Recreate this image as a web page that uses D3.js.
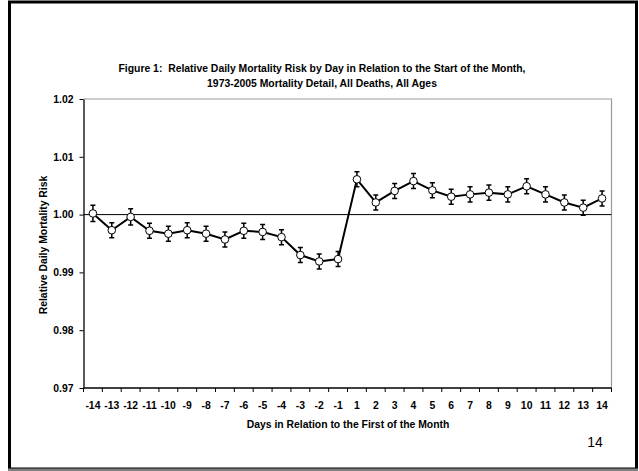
<!DOCTYPE html>
<html>
<head>
<meta charset="utf-8">
<script src="https://cdn.jsdelivr.net/npm/d3@7"></script>
<style>
  body { margin: 0; background: #fff; }
  svg { display: block; font-family: "Liberation Sans", Arial, sans-serif; }
  text { white-space: pre; }
</style>
</head>
<body>
<div id="chart"></div>
<script>
// days relative to first of month (no day 0)
const days = [-14, -13, -12, -11, -10, -9, -8, -7, -6, -5, -4, -3, -2, -1,
              1, 2, 3, 4, 5, 6, 7, 8, 9, 10, 11, 12, 13, 14];
const risk = [1.0002, 0.9973, 0.9996, 0.9972, 0.9967, 0.9973, 0.9967, 0.9957, 0.9972, 0.9970, 0.9961, 0.9930, 0.9919, 0.9923,
              1.0061, 1.0021, 1.0041, 1.0058, 1.0042, 1.0031, 1.0035, 1.0038, 1.0035, 1.0049, 1.0035, 1.0021, 1.0012, 1.0028];
const errs = [0.0014, 0.0013, 0.0014, 0.0013, 0.0013, 0.0013, 0.0013, 0.0013, 0.0013, 0.0013, 0.0013, 0.0013, 0.0013, 0.0013,
              0.0013, 0.0013, 0.0013, 0.0013, 0.0013, 0.0013, 0.0013, 0.0013, 0.0013, 0.0013, 0.0013, 0.0013, 0.0013, 0.0013];
const yTicks = [0.97, 0.98, 0.99, 1.00, 1.01, 1.02];

const width = 639, height = 471;
const plot = {left: 83.5, right: 611.5, top: 99, bottom: 388};
const fs = "10.4px";

const svg = d3.select("#chart").append("svg")
    .attr("width", width)
    .attr("height", height);

// slide frame
svg.append("rect")
    .attr("x", 9.5).attr("y", 2)
    .attr("width", 627).attr("height", 467)
    .attr("fill", "none")
    .attr("stroke", "#000")
    .attr("stroke-width", 3);
svg.append("line")
    .attr("x1", 8).attr("x2", 638)
    .attr("y1", 469.5).attr("y2", 469.5)
    .attr("stroke", "#808080")
    .attr("stroke-width", 2);

// title
const title = svg.append("text")
    .attr("text-anchor", "middle")
    .attr("font-size", fs)
    .attr("font-weight", "bold");
title.append("tspan").attr("x", 322).attr("y", 72)
    .text("Figure 1:  Relative Daily Mortality Risk by Day in Relation to the Start of the Month,");
title.append("tspan").attr("x", 322).attr("y", 87)
    .text("1973-2005 Mortality Detail, All Deaths, All Ages");

const x = d3.scaleBand()
    .domain(days)
    .range([plot.left, plot.right]);

const y = d3.scaleLinear()
    .domain([0.97, 1.02])
    .range([plot.bottom, plot.top]);

// plot area border (top / right)
svg.append("path")
    .attr("d", `M${plot.left},${plot.top}H${plot.right}V${plot.bottom}`)
    .attr("fill", "none")
    .attr("stroke", "#999")
    .attr("stroke-width", 1.2);

// reference line at 1.00
svg.append("line")
    .attr("x1", plot.left).attr("x2", plot.right)
    .attr("y1", y(1)).attr("y2", y(1))
    .attr("stroke", "#000")
    .attr("stroke-width", 1);

// y axis
const yAxis = svg.append("g")
    .attr("transform", `translate(${plot.left},0)`)
    .call(d3.axisLeft(y).tickValues(yTicks).tickFormat(d3.format(".2f")).tickSize(4).tickSizeOuter(0).tickPadding(6));
yAxis.select(".domain").attr("stroke-width", 1.3);
yAxis.selectAll("text")
    .attr("font-size", fs)
    .attr("font-weight", "bold")
    .attr("font-family", "Liberation Sans, Arial, sans-serif")
    .attr("fill", "#000");

// x axis: ticks on category boundaries
const xAxis = svg.append("g")
    .attr("transform", `translate(0,${plot.bottom})`);
xAxis.append("line")
    .attr("x1", plot.left).attr("x2", plot.right)
    .attr("stroke", "#000")
    .attr("stroke-width", 1.3);
const bounds = days.map(d => x(d)).concat([x(days[days.length - 1]) + x.bandwidth()]);
xAxis.selectAll("line.tick")
    .data(bounds)
    .join("line")
    .attr("class", "tick")
    .attr("x1", d => d).attr("x2", d => d)
    .attr("y1", 0).attr("y2", 4)
    .attr("stroke", "#000");
xAxis.selectAll("text")
    .data(days)
    .join("text")
    .attr("x", d => x(d) + x.bandwidth() / 2)
    .attr("y", 21)
    .attr("text-anchor", "middle")
    .attr("font-size", fs)
    .attr("font-weight", "bold")
    .text(d => d);

// axis titles
svg.append("text")
    .attr("x", 348).attr("y", 428)
    .attr("text-anchor", "middle")
    .attr("font-size", fs)
    .attr("font-weight", "bold")
    .text("Days in Relation to the First of the Month");
svg.append("text")
    .attr("transform", "translate(47,245) rotate(-90)")
    .attr("text-anchor", "middle")
    .attr("font-size", fs)
    .attr("font-weight", "bold")
    .text("Relative Daily Mortality Risk");

// page number
svg.append("text")
    .attr("x", 595).attr("y", 447)
    .attr("text-anchor", "middle")
    .attr("font-size", "14px")
    .text("14");

const pts = days.map((d, i) => ({day: d, v: risk[i], e: errs[i]}));
const cx = d => x(d.day) + x.bandwidth() / 2;

// line
svg.append("path")
    .datum(pts)
    .attr("fill", "none")
    .attr("stroke", "#000")
    .attr("stroke-width", 2)
    .attr("d", d3.line().x(cx).y(d => y(d.v)));

// error bars
const eb = svg.append("g").attr("stroke", "#000").attr("stroke-width", 1.5);
eb.selectAll("path")
    .data(pts)
    .join("path")
    .attr("fill", "none")
    .attr("d", d => {
        const c = cx(d), t = y(d.v + d.e), b = y(d.v - d.e);
        return `M${c},${t}V${b}M${c - 2.5},${t}H${c + 2.5}M${c - 2.5},${b}H${c + 2.5}`;
    });

// markers
svg.append("g")
    .selectAll("circle")
    .data(pts)
    .join("circle")
    .attr("cx", cx)
    .attr("cy", d => y(d.v))
    .attr("r", 3.8)
    .attr("fill", "#fff")
    .attr("stroke", "#000")
    .attr("stroke-width", 1);
</script>
</body>
</html>
